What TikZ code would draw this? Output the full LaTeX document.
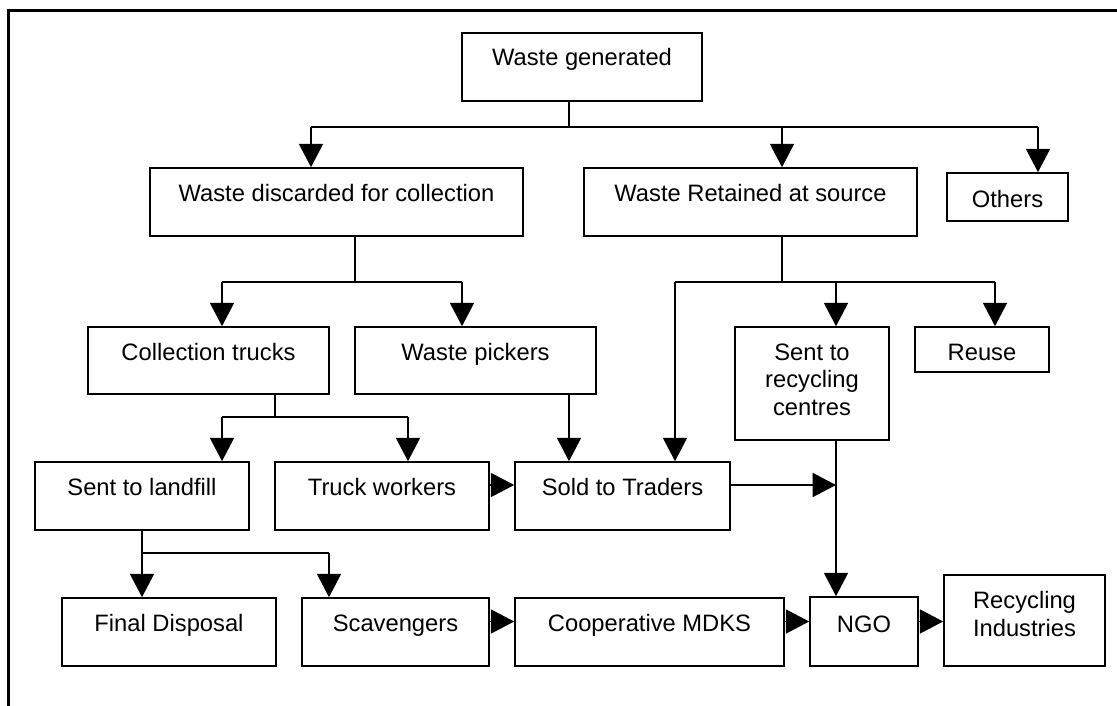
\documentclass[tikz,border=0pt]{standalone}
\usepackage{fontspec}
\setmainfont{Liberation Sans}
\usetikzlibrary{arrows.meta,fit}
% box from (x1,y1) to (x2,y2) with a one-line caption set on the given baseline
\newcommand\flowbox[7]{%
  \node[box, fit={(#2,#3) (#4,#5)}] (#1) {};
  \node[lbl] (#1-t) at ({(#2+#4)/2},#6) {#7};}
\begin{document}
\begin{tikzpicture}[x=0.75pt,y=-0.75pt,
  box/.style={draw, line width=1.2pt, inner sep=0pt, rectangle},
  lbl/.style={inner sep=0pt, anchor=base, font=\fontsize{17.8}{20.6}\selectfont},
  link/.style={line width=1.2pt},
  arr/.style={link, -{Triangle[length=17.5pt,width=18pt]}},
  frame/.style={line width=1.8pt}]
\useasboundingbox (0,0) rectangle (1117,706);

% outer frame (top and left edges)
\coordinate (fr-a) at (1117,10.5);
\coordinate (fr-b) at (8.5,10.5);
\coordinate (fr-c) at (8.5,706);
\draw[frame] (fr-a) -- (fr-b) -- (fr-c);

% boxes
\flowbox{gen}{462}{33}{702}{101}{66}{Waste generated}
\flowbox{disc}{150}{168}{523}{236}{201.5}{Waste discarded for collection}
\flowbox{ret}{584}{168}{917}{236}{201.5}{Waste Retained at source}
\flowbox{oth}{947}{173}{1068}{221}{207}{Others}
\flowbox{ct}{88}{327}{329}{394}{360}{Collection trucks}
\flowbox{wp}{355}{327}{596}{394}{360}{Waste pickers}
\node[box, fit={(735,327) (889,440)}] (rc) {};
\node[lbl] (rc-t1) at (812,360) {Sent to};
\node[lbl] (rc-t2) at (812,387.5) {recycling};
\node[lbl] (rc-t3) at (812,415) {centres};
\flowbox{reu}{915}{327}{1049}{372}{360}{Reuse}
\flowbox{lf}{35}{462}{249}{530}{495}{Sent to landfill}
\flowbox{tw}{275}{462}{489}{530}{495}{Truck workers}
\flowbox{st}{515}{462}{730}{530}{495}{Sold to Traders}
\flowbox{fd}{62}{598}{276}{666}{631}{Final Disposal}
\flowbox{sc}{302}{598}{489}{666}{631}{Scavengers}
\flowbox{co}{515}{598}{784}{666}{631}{Cooperative MDKS}
\flowbox{ngo}{810}{597}{918}{666}{632}{NGO}
\node[box, fit={(944,575) (1105,666)}] (ri) {};
\node[lbl] (ri-t1) at (1024.5,608) {Recycling};
\node[lbl] (ri-t2) at (1024.5,636) {Industries};

% junction points of the branching connectors
\coordinate (b1) at (569,127);
\coordinate (b1l) at (311,127);
\coordinate (b1m) at (782,127);
\coordinate (b1r) at (1038,127);
\coordinate (b2) at (355,282);
\coordinate (b2l) at (222,282);
\coordinate (b2r) at (462,282);
\coordinate (b3) at (782,282);
\coordinate (b3l) at (675,282);
\coordinate (b3m) at (836,282);
\coordinate (b3r) at (995,282);
\coordinate (b4) at (275,417);
\coordinate (b4l) at (222,417);
\coordinate (b4r) at (408,417);
\coordinate (b5) at (142,553);
\coordinate (b5r) at (329,553);
\coordinate (h1) at (0,485);
\coordinate (h2) at (0,621.5);

% Waste generated
\draw[link] (gen.south -| b1) -- (b1);
\draw[link] (b1l) -- (b1r);
\draw[arr] (b1l) -- (b1l |- disc.north);
\draw[arr] (b1m) -- (b1m |- ret.north);
\draw[arr] (b1r) -- (b1r |- oth.north);

% Waste discarded for collection
\draw[link] (disc.south -| b2) -- (b2);
\draw[link] (b2l) -- (b2r);
\draw[arr] (b2l) -- (b2l |- ct.north);
\draw[arr] (b2r) -- (b2r |- wp.north);

% Waste retained at source
\draw[link] (ret.south -| b3) -- (b3);
\draw[link] (b3l) -- (b3r);
\draw[arr] (b3l) -- (b3l |- st.north);
\draw[arr] (b3m) -- (b3m |- rc.north);
\draw[arr] (b3r) -- (b3r |- reu.north);

% Collection trucks
\draw[link] (ct.south -| b4) -- (b4);
\draw[link] (b4l) -- (b4r);
\draw[arr] (b4l) -- (b4l |- lf.north);
\draw[arr] (b4r) -- (b4r |- tw.north);

% Waste pickers, truck workers and traders
\draw[arr] (wp.south -| b1) -- (st.north -| b1);
\draw[arr] (tw.east |- h1) -- (st.west |- h1);
\draw[arr] (st.east |- h1) -- (b3m |- h1);
\draw[arr] (rc.south -| b3m) -- (ngo.north -| b3m);

% Sent to landfill
\draw[link] (lf.south -| b5) -- (b5);
\draw[link] (b5) -- (b5r);
\draw[arr] (b5) -- (b5 |- fd.north);
\draw[arr] (b5r) -- (b5r |- sc.north);

% bottom chain
\draw[arr] (sc.east |- h2) -- (co.west |- h2);
\draw[arr] (co.east |- h2) -- (ngo.west |- h2);
\draw[arr] (ngo.east |- h2) -- (ri.west |- h2);
\end{tikzpicture}
\end{document}
